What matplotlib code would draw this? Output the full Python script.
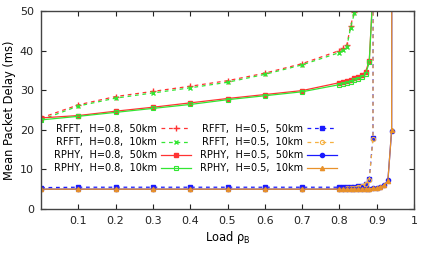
import matplotlib
matplotlib.use("Agg")
import matplotlib.pyplot as plt

# load points (x axis)
x_rfft08 = [0, 0.1, 0.2, 0.3, 0.4, 0.5, 0.6, 0.7, 0.8, 0.81, 0.82, 0.83, 0.84, 0.85]
x_rphy08 = [0, 0.1, 0.2, 0.3, 0.4, 0.5, 0.6, 0.7, 0.8, 0.81, 0.82, 0.83, 0.84,
            0.85, 0.86, 0.87, 0.88, 0.89, 0.9]
x_rfft05 = [0, 0.1, 0.2, 0.3, 0.4, 0.5, 0.6, 0.7, 0.8, 0.81, 0.82, 0.83, 0.84,
            0.85, 0.86, 0.87, 0.88, 0.89, 0.9]
x_rphy05 = [0, 0.1, 0.2, 0.3, 0.4, 0.5, 0.6, 0.7, 0.8, 0.81, 0.82, 0.83, 0.84,
            0.85, 0.86, 0.87, 0.88, 0.89, 0.9, 0.91, 0.92, 0.93, 0.94, 0.95]

# mean packet delay (ms)
rfft08_50 = [23.0, 26.3, 28.4, 29.7, 31.0, 32.4, 34.3, 36.7, 40.0, 40.6, 41.4, 46.3, 49.7, 70]
rfft08_10 = [22.5, 26.0, 28.0, 29.3, 30.6, 32.0, 34.0, 36.4, 39.5, 40.2, 41.0, 45.8, 49.4, 70]
rphy08_50 = [23.0, 23.6, 24.7, 25.7, 26.8, 27.9, 28.9, 29.9, 31.9, 32.1, 32.3, 32.6,
             33.0, 33.4, 33.9, 34.6, 37.4, 55, 200]
rphy08_10 = [22.5, 23.4, 24.4, 25.4, 26.4, 27.6, 28.6, 29.6, 31.4, 31.6, 31.8, 32.1,
             32.5, 32.9, 33.4, 34.0, 37.0, 55, 200]
rfft05_50 = [5.4, 5.5, 5.5, 5.5, 5.5, 5.5, 5.5, 5.5, 5.5, 5.5, 5.5, 5.6, 5.6,
             5.7, 5.9, 6.3, 7.5, 18.0, 1000]
rfft05_10 = [5.0, 5.0, 5.0, 5.0, 5.0, 5.0, 5.0, 5.0, 5.1, 5.1, 5.2, 5.3, 5.4,
             5.6, 5.9, 6.3, 7.3, 17.8, 1000]
rphy05_50 = [5.0, 5.0, 5.0, 5.0, 5.0, 5.0, 5.0, 5.0, 5.0, 5.0, 5.0, 5.0, 5.05,
             5.05, 5.1, 5.1, 5.15, 5.2, 5.3, 5.6, 6.0, 7.2, 19.8, 1000]
rphy05_10 = [5.0, 5.0, 5.0, 5.0, 5.0, 5.0, 5.0, 5.0, 5.0, 5.0, 5.0, 5.0, 5.0,
             5.05, 5.05, 5.1, 5.1, 5.2, 5.3, 5.6, 6.0, 7.1, 19.9, 1000]

labels = ["RFFT,  H=0.8,  50km", "RFFT,  H=0.8,  10km",
          "RPHY,  H=0.8,  50km", "RPHY,  H=0.8,  10km",
          "RFFT,  H=0.5,  50km", "RFFT,  H=0.5,  10km",
          "RPHY,  H=0.5,  50km", "RPHY,  H=0.5,  10km"]

red = "#ff3333"
green = "#33e633"
blue = "#1a1aff"
orange_l = "#f5b041"
orange = "#e8912a"

fig = plt.figure(figsize=(4.29, 2.58), dpi=100)
ax = fig.add_axes([41 / 429, 1 - 209 / 258, 373 / 429, 198 / 258])

lw = 0.9
ms = 3.5
dash = (0, (3, 3))
ax.plot(x_rfft08, rfft08_50, color=red, ls=dash, lw=lw, marker="+", ms=ms + 0.5, mew=1, label=labels[0])
ax.plot(x_rfft08, rfft08_10, color=green, ls=dash, lw=lw, marker="x", ms=ms - 0.5, mew=1, label=labels[1])
ax.plot(x_rphy08, rphy08_50, color=red, ls="-", lw=lw, marker="s", ms=ms - 1, label=labels[2])
ax.plot(x_rphy08, rphy08_10, color=green, ls="-", lw=lw, marker="s", ms=ms, mfc="none", mew=0.8, label=labels[3])
ax.plot(x_rfft05, rfft05_50, color=blue, ls=dash, lw=lw, marker="s", ms=ms - 0.5, label=labels[4])
ax.plot(x_rfft05, rfft05_10, color=orange_l, ls=dash, lw=lw, marker="o", ms=ms - 0.5, mfc="none", mew=0.8, label=labels[5])
ax.plot(x_rphy05, rphy05_50, color=blue, ls="-", lw=lw, marker="o", ms=ms - 0.5, label=labels[6])
ax.plot(x_rphy05, rphy05_10, color=orange, ls="-", lw=lw, marker="^", ms=ms - 0.5, label=labels[7])

ax.set_xlim(0, 1)
ax.set_ylim(0, 50)
ax.set_xticks([0.1, 0.2, 0.3, 0.4, 0.5, 0.6, 0.7, 0.8, 0.9, 1])
ax.set_xticklabels(["0.1", "0.2", "0.3", "0.4", "0.5", "0.6", "0.7", "0.8", "0.9", "1"])
ax.set_yticks([0, 10, 20, 30, 40, 50])
ax.tick_params(direction="in", length=3.5, width=0.8, top=True, right=True,
               labelsize=8, pad=5, colors="#222222")
for s in ax.spines.values():
    s.set_color("#444444")
    s.set_linewidth(1)

ax.set_xlabel("Load ρ$_\\mathrm{B}$", fontsize=8.3, labelpad=2)
ax.set_ylabel("Mean Packet Delay (ms)", fontsize=8.3, labelpad=3)

ax.legend(ncol=2, markerfirst=False, frameon=False, fontsize=7, numpoints=1,
          handlelength=3.1, handletextpad=0.4, columnspacing=0.9, labelspacing=0.32,
          loc="upper left", bbox_to_anchor=(0.035, 0.43), borderaxespad=0, borderpad=0)

fig.savefig("out.png", dpi=100)
